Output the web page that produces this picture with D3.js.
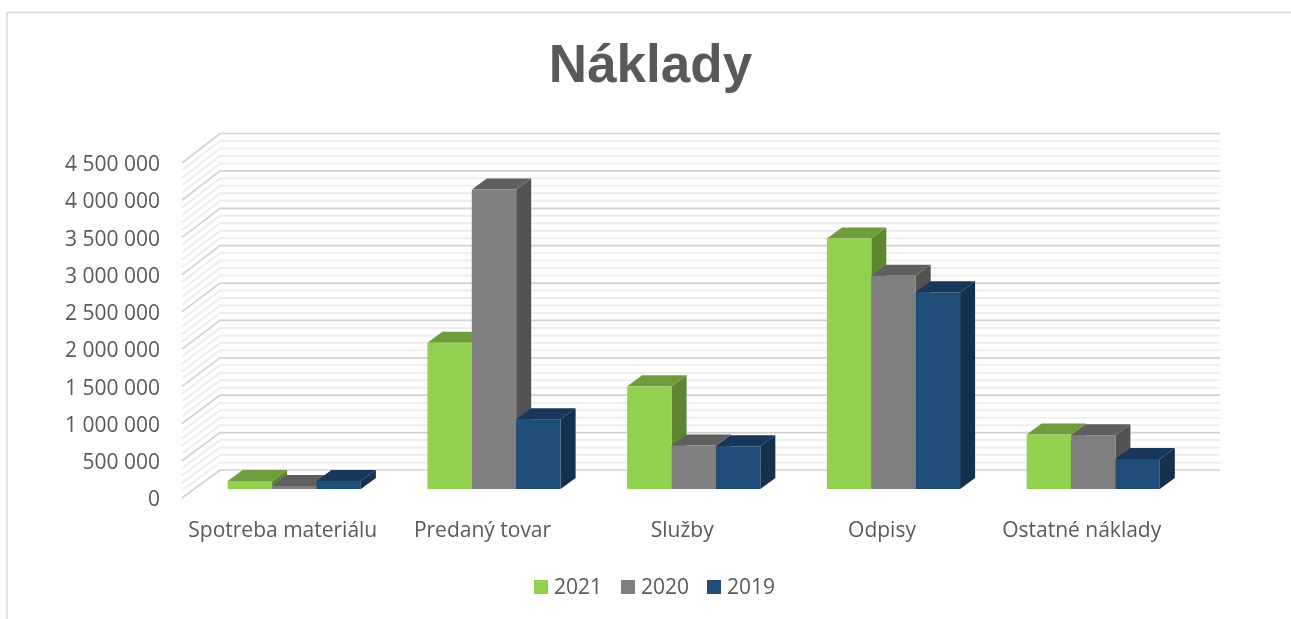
<!DOCTYPE html>
<html><head><meta charset="utf-8">
<script src="https://cdn.jsdelivr.net/npm/d3@7"></script>
<style>
html,body{margin:0;padding:0;background:#fff;overflow:hidden}
svg{display:block;filter:blur(0.35px)}
.domain{display:none}
</style></head><body>
<svg id="c" width="1291" height="619"></svg>
<script>
const categories = ["Spotreba materiálu","Predaný tovar","Služby","Odpisy","Ostatné náklady"];
const seriesNames = ["2021","2020","2019"];
const values2021 = [107000,1960000,1375000,3355000,730000];
const values2020 = [40000,4010000,582000,2855000,720000];
const values2019 = [107000,935000,572000,2635000,402000];
const seriesValues = [values2021,values2020,values2019];
const faceColors = ["#92D050","#7F7F7F","#1F4E79"];
const topColors = ["#6F9D3C","#5F5F5F","#17375B"];
const sideColors = ["#5F8530","#525252","#14304E"];
const yTicks = d3.range(0,4500001,500000);
const minorTicks = d3.range(0,4500001,100000);

const svg = d3.select("#c");
const ink = "#595959";
const tickFont = "'Open Sans','Noto Sans',sans-serif";

// frame
svg.append("path").attr("d","M7,619V12.5H1291").attr("fill","none").attr("stroke","#d9d9d9").attr("stroke-width",1.5);

// title
svg.append("text").attr("x",650.5).attr("y",82).attr("text-anchor","middle")
  .attr("font-family","'Liberation Sans',Arial,sans-serif").attr("font-weight",700)
  .attr("font-size",53).attr("fill",ink).text("Náklady");

// scales
const yFront = d3.scaleLinear().domain([0,4500000]).range([498,163]);
const yBack = d3.scaleLinear().domain([0,4500000]).range([470,133.5]);
const yBar = d3.scaleLinear().domain([0,4500000]).range([489,153]);
const xWallFront = 182, xWallBack = 220, xWallRight = 1220;
const depthX = 15, depthY = 11;
const x0 = d3.scaleBand().domain(categories).range([194.4,1193.1]).paddingInner(0.3332).paddingOuter(0.1666);
const x1 = d3.scaleBand().domain(seriesNames).range([0,x0.bandwidth()]);

// gridlines on walls
const wallLine = v => `M${xWallFront},${yFront(v)}L${xWallBack},${yBack(v)}H${xWallRight}`;
const isMajor = v => v % 500000 === 0;
svg.append("g").selectAll("path").data(minorTicks.filter(v=>!isMajor(v))).join("path")
  .attr("d",wallLine).attr("fill","none").attr("stroke","#eeeeee").attr("stroke-width",2);
svg.append("g").selectAll("path").data(yTicks).join("path")
  .attr("d",wallLine).attr("fill","none").attr("stroke","#d2d2d2").attr("stroke-width",1.7);

// bars
const g = svg.append("g");
categories.forEach((cat,ci)=>{
  seriesNames.forEach((s,si)=>{
    const v = seriesValues[si][ci];
    const x = x0(cat)+x1(s), w = x1.bandwidth(), yt = yBar(v), yb = yBar(0);
    g.append("path").attr("fill",sideColors[si])
      .attr("d",`M${x+w},${yt}l${depthX},${-depthY}V${yb-depthY}L${x+w},${yb}Z`);
    g.append("path").attr("fill",topColors[si])
      .attr("d",`M${x},${yt}l${depthX},${-depthY}h${w}l${-depthX},${depthY}Z`);
    g.append("rect").attr("x",x).attr("y",yt).attr("width",w).attr("height",yb-yt).attr("fill",faceColors[si]);
  });
});

// axes
const fmt = d => d3.format(",")(d).replace(/,/g," ");
const ay = svg.append("g").attr("transform","translate(160,1)")
  .call(d3.axisLeft(yFront).tickValues(yTicks).tickFormat(fmt).tickSize(0).tickPadding(0));
ay.selectAll("text").attr("font-family",tickFont).attr("font-size",21).attr("fill",ink);
const ax = svg.append("g").attr("transform","translate(-11.5,522)")
  .call(d3.axisBottom(x0).tickSize(0).tickPadding(0));
ax.selectAll("text").attr("font-family",tickFont).attr("font-size",21).attr("fill",ink).attr("dy","0.71em").attr("y",0);

// legend
const legendSwatchX = [534,621,707];
const leg = svg.append("g").selectAll("g").data(seriesNames).join("g")
  .attr("transform",(d,i)=>`translate(${legendSwatchX[i]},580)`);
leg.append("rect").attr("width",14).attr("height",14).attr("fill",(d,i)=>faceColors[i]);
leg.append("text").attr("x",20).attr("y",14).attr("font-family",tickFont).attr("font-size",21).attr("fill",ink).text(d=>d);
</script></body></html>
